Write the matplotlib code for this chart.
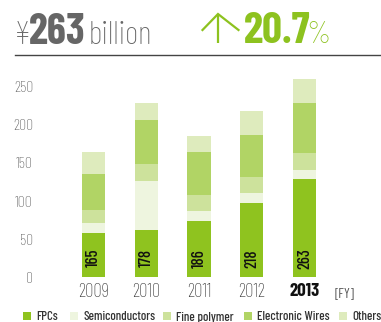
import matplotlib
matplotlib.use("Agg")
import matplotlib.pyplot as plt
from matplotlib.patches import Rectangle

# Segment sales by fiscal year (billion yen)
years = ["2009", "2010", "2011", "2012", "2013"]
fpcs = [58, 62, 74, 98, 129]
semiconductors = [13, 64, 13, 13, 12]
fine_polymer = [17, 22, 21, 20, 22]
electronic_wires = [47, 58, 56, 56, 66]
others = [30, 22, 22, 31, 34]
totals = [165, 178, 186, 218, 263]

series_names = ["FPCs", "Semiconductors", "Fine polymer", "Electronic Wires", "Others"]
series_values = [fpcs, semiconductors, fine_polymer, electronic_wires, others]
series_colors = ["#8fc31f", "#eef5df", "#cde29c", "#b1d465", "#deebbd"]

yticks = [0, 50, 100, 150, 200, 250]

narrow = ["Barlow Condensed", "Roboto Condensed", "DejaVu Sans"]
plt.rcParams["font.family"] = narrow

W, H = 381, 322
fig = plt.figure(figsize=(W / 100, H / 100), dpi=100)
renderer = fig.canvas.get_renderer()

def fx(px):
    return px / W

def fy(py):
    return 1 - py / H

# plot area in pixels
ax_left, ax_right = 40, 360
ax_top, ax_bottom = 79.1, 277.3
ax = fig.add_axes([fx(ax_left), fy(ax_bottom), fx(ax_right - ax_left), (ax_bottom - ax_top) / H])

x = list(range(len(years)))
bottom = [0] * len(years)
for name, vals, col in zip(series_names, series_values, series_colors):
    ax.bar(x, vals, width=0.44, bottom=bottom, color=col, label=name, linewidth=0)
    bottom = [b + v for b, v in zip(bottom, vals)]

for xi, t in zip(x, totals):
    ax.text(xi, 25, str(t), rotation=90, ha="center", va="center",
            fontsize=12, fontweight="medium", color="#111111")

spacing = 52.75
ax.set_xlim((ax_left - 93.5) / spacing, (ax_right - 93.5) / spacing)
ax.set_ylim(0, 260)
ax.set_yticks(yticks)
ax.set_yticklabels([str(v) for v in yticks], fontsize=11.5, fontweight="light", color="#555555")
ax.set_xticks(x)
ax.set_xticklabels(years, fontsize=13.5, fontweight="light", color="#333333")
for lbl in ax.get_xticklabels():
    if lbl.get_text() == "2013":
        lbl.set_fontweight("bold")
        lbl.set_color("#111111")
ax.tick_params(axis="both", length=0)
ax.tick_params(axis="y", pad=5)
ax.tick_params(axis="x", pad=4)
for s in ax.spines.values():
    s.set_visible(False)

fig.text(fx(335), fy(294), "[FY]", fontsize=10, color="#555555", va="center", ha="left")

# headline: pieces laid out left to right from their rendered widths
gray = "#666666"
green = "#8dc21f"

def run_text(x0, pieces, baseline):
    xpos = x0
    for txt, size, weight, col, gap in pieces:
        t = fig.text(fx(xpos), fy(baseline), txt, fontsize=size, fontweight=weight,
                     color=col, va="baseline", ha="left")
        xpos = t.get_window_extent(renderer).x1 + gap

run_text(14, [("¥", 24, "light", gray, -3),
              ("263", 31, "bold", gray, 4),
              ("billion", 23.5, "light", gray, 0)], 43.5)
run_text(244, [("20.7", 31.5, "bold", green, -4),
               ("%", 22, "light", green, 0)], 43)

# upward arrow icon
fig.add_artist(plt.Line2D([fx(218), fx(218)], [fy(14.5), fy(43)], color=green, lw=1.6,
                          solid_capstyle="butt"))
fig.add_artist(plt.Line2D([fx(202.5), fx(218), fx(238.5)], [fy(30), fy(14), fy(30)],
                          color=green, lw=1.6, solid_joinstyle="miter"))

fig.add_artist(plt.Line2D([fx(15), fx(381)], [fy(55), fy(55)], color="#444444", lw=1.0))

# legend row: square swatch followed by its label
legend_x = [23, 70, 163, 244, 339]
sq = 8
for lx, name, col in zip(legend_x, series_names, series_colors):
    fig.add_artist(Rectangle((fx(lx), fy(316 + sq / 2)), fx(sq), sq / H,
                             facecolor=col, edgecolor="none", transform=fig.transFigure))
    fig.text(fx(lx + sq + 5), fy(316), name, fontsize=9.3, fontweight="medium",
             color="#333333", va="center_baseline", ha="left")

fig.savefig("out.png", dpi=100)
